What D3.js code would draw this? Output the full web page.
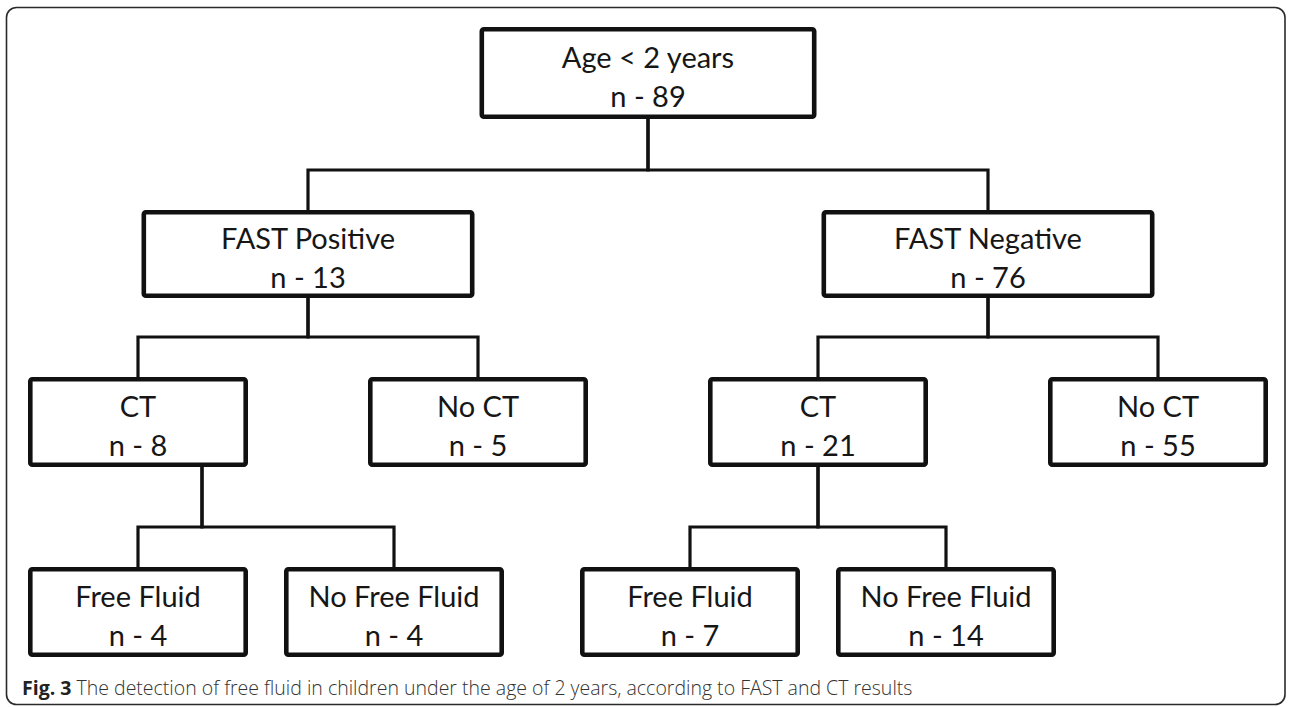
<!DOCTYPE html>
<html>
<head>
<meta charset="utf-8">
<script src="https://cdn.jsdelivr.net/npm/d3@7"></script>
<style>
  html, body { margin: 0; padding: 0; background: #fff; }
  svg { display: block; }
</style>
</head>
<body>
<div id="chart"></div>
<script>
// node data (tree read top to bottom, left to right)
const nodeLabels = ["Age < 2 years", "FAST Positive", "FAST Negative", "CT", "No CT",
                    "CT", "No CT", "Free Fluid", "No Free Fluid", "Free Fluid", "No Free Fluid"];
const nodeCounts = [89, 13, 76, 8, 5, 21, 55, 4, 4, 7, 14];
const nodeParents = [null, 0, 0, 1, 1, 2, 2, 3, 3, 5, 5];

const captionBold = "Fig. 3";
const captionText = "The detection of free fluid in children under the age of 2 years, according to FAST and CT results";

const width = 1292,
      height = 707,
      margin = ({ top: 27, right: 24, bottom: 50, left: 28 });

const boxW = [337, 333, 220, 220],   // box width per depth
      boxH = [92, 88, 90, 90],       // box height per depth
      childSpread = 256;             // distance between sibling leaves at depth 3

let svg = d3.select("#chart")
    .append("svg")
    .attr("width", width)
    .attr("height", height)
    .attr("viewBox", [0, 0, width, height]);

// outer figure frame
svg.append("rect")
    .attr("x", 6.5)
    .attr("y", 7.5)
    .attr("width", width - 13.5)
    .attr("height", height - 10)
    .attr("rx", 10)
    .attr("fill", "none")
    .attr("stroke", "#2a2a2a")
    .attr("stroke-width", 1.6);

// build the hierarchy from the arrays
let table = nodeLabels.map((d, i) => ({ id: String(i), label: d, n: nodeCounts[i],
    parent: nodeParents[i] === null ? null : String(nodeParents[i]) }));
let root = d3.stratify().id(d => d.id).parentId(d => d.parent)(table);

// y: top of the boxes for each level
let y = d3.scaleLinear()
    .domain([0, 1, 2, 3])
    .range([margin.top, 210, 377, 567]);

// x: level 2 boxes spread evenly across the figure
let level2 = root.descendants().filter(d => d.depth === 2);
let x2 = d3.scalePoint()
    .domain(level2.map(d => d.id))
    .range([margin.left + boxW[2] / 2, width - margin.right - boxW[2] / 2]);
level2.forEach(d => d.x = x2(d.id));

// parents sit over the middle of their children
[1, 0].forEach(depth => {
    root.descendants().filter(d => d.depth === depth)
        .forEach(d => d.x = d3.mean(d.children, c => c.x));
});

// leaves spread around their parent, kept inside the left margin
root.descendants().filter(d => d.depth === 2 && d.children).forEach(p => {
    let k = p.children.length;
    p.children.forEach((c, i) => c.x = p.x + (i - (k - 1) / 2) * childSpread);
    let minLeft = d3.min(p.children, c => c.x - boxW[3] / 2);
    if (minLeft < margin.left) p.children.forEach(c => c.x += margin.left - minLeft);
});

// connectors
let links = [];
root.descendants().filter(d => d.children).forEach(p => {
    let dropX = (p.x + d3.mean(p.children, c => c.x)) / 2;
    let bottom = y(p.depth) + boxH[p.depth];
    let top = y(p.depth + 1);
    let barY = top - 40;
    p.children.forEach(c => {
        links.push(`M${dropX},${bottom}V${barY}H${c.x}V${top}`);
    });
});

svg.append("g")
    .selectAll("path")
    .data(links)
    .join("path")
    .attr("d", d => d)
    .attr("fill", "none")
    .attr("stroke", "#111")
    .attr("stroke-width", 3.2);

// boxes
let node = svg.selectAll(".node")
    .data(root.descendants())
    .join("g")
    .attr("class", "node")
    .attr("transform", d => `translate(${d.x},${y(d.depth) + boxH[d.depth] / 2})`);

node.append("rect")
    .attr("x", d => -boxW[d.depth] / 2 + 2.3)
    .attr("y", d => -boxH[d.depth] / 2 + 2.3)
    .attr("width", d => boxW[d.depth] - 4.6)
    .attr("height", d => boxH[d.depth] - 4.6)
    .attr("rx", 2)
    .attr("fill", "#fff")
    .attr("stroke", "#111")
    .attr("stroke-width", 4.6);

node.append("text")
    .text(d => d.data.label)
    .attr("y", -5)
    .attr("text-anchor", "middle")
    .style("font-family", "Lato, 'Open Sans', sans-serif")
    .style("font-size", "29px")
    .style("fill", "#161616");

node.append("text")
    .text(d => "n - " + d.data.n)
    .attr("y", 34)
    .attr("text-anchor", "middle")
    .style("font-family", "Lato, 'Open Sans', sans-serif")
    .style("font-size", "29px")
    .style("fill", "#161616");

// caption
let cap = svg.append("text")
    .attr("x", 22)
    .attr("y", 695)
    .style("font-family", "'Open Sans', sans-serif")
    .style("font-size", "19.5px");

cap.append("tspan")
    .text(captionBold)
    .style("font-weight", "bold")
    .style("fill", "#222");

cap.append("tspan")
    .text(" " + captionText)
    .style("font-weight", 300)
    .style("fill", "#333");
</script>
</body>
</html>
